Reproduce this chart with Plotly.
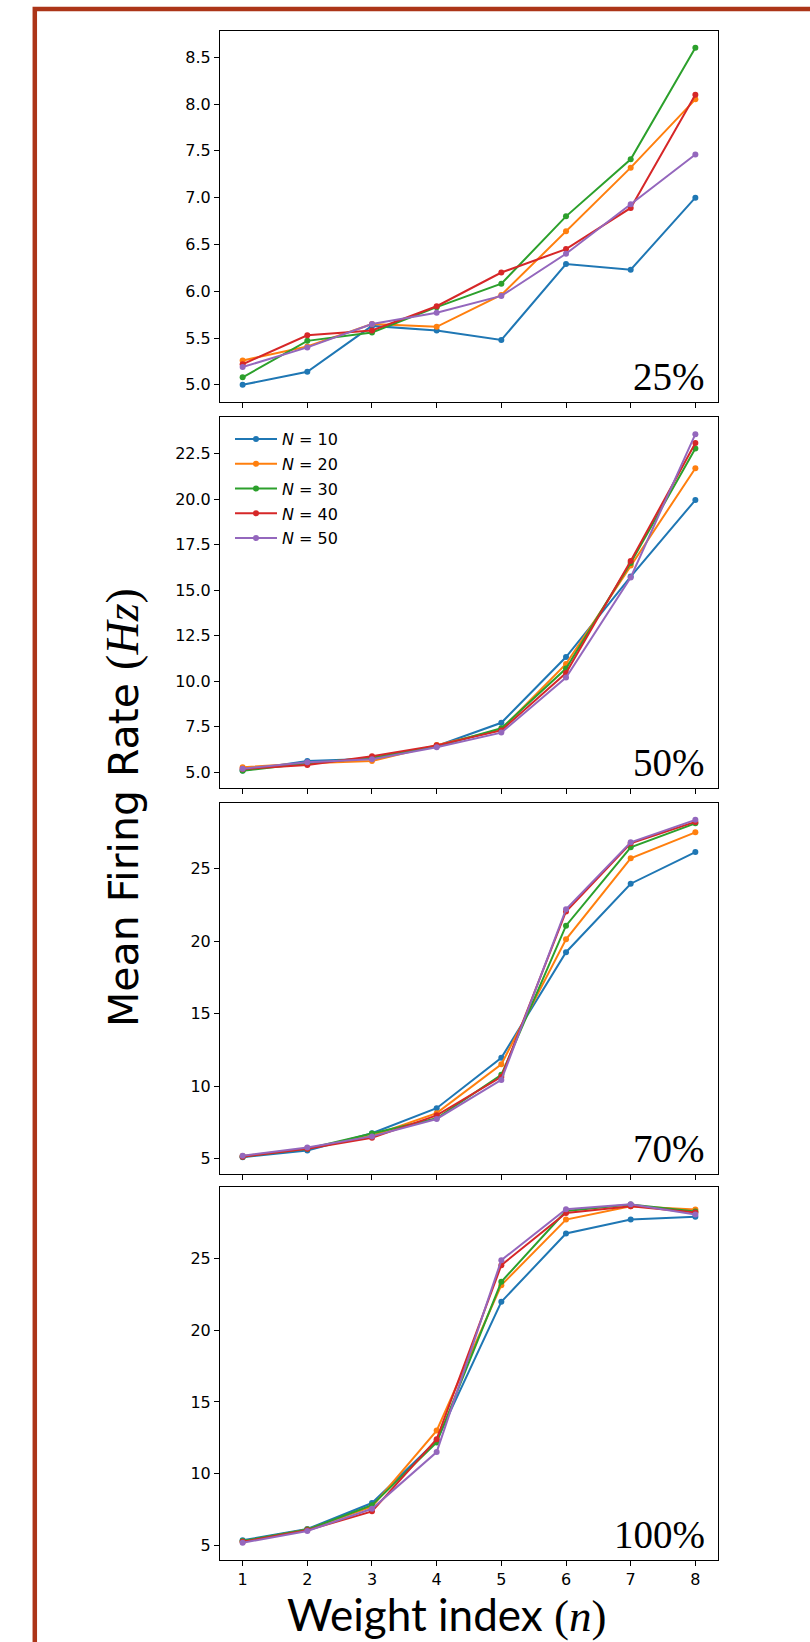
import plotly.graph_objects as go
from plotly.subplots import make_subplots

# ---------------- data ----------------
weight_index = [1, 2, 3, 4, 5, 6, 7, 8]
legend_labels = ["<i>N</i> = 10", "<i>N</i> = 20", "<i>N</i> = 30", "<i>N</i> = 40", "<i>N</i> = 50"]
panel_labels = ["25%", "50%", "70%", "100%"]

# rows: N = 10, 20, 30, 40, 50
rate_25 = [
    [5.00, 5.14, 5.63, 5.58, 5.48, 6.29, 6.23, 7.00],
    [5.26, 5.41, 5.65, 5.62, 5.96, 6.64, 7.32, 8.05],
    [5.08, 5.47, 5.56, 5.83, 6.08, 6.80, 7.41, 8.60],
    [5.22, 5.53, 5.58, 5.84, 6.20, 6.45, 6.89, 8.10],
    [5.19, 5.40, 5.65, 5.77, 5.95, 6.40, 6.93, 7.46],
]
rate_50 = [
    [5.10, 5.62, 5.75, 6.45, 7.72, 11.33, 15.75, 19.95],
    [5.28, 5.50, 5.62, 6.50, 7.35, 10.95, 16.35, 21.70],
    [5.08, 5.50, 5.80, 6.42, 7.42, 10.70, 16.50, 22.78],
    [5.18, 5.40, 5.88, 6.48, 7.30, 10.45, 16.60, 23.08],
    [5.20, 5.55, 5.72, 6.38, 7.18, 10.20, 15.70, 23.57],
]
rate_70 = [
    [5.12, 5.57, 6.77, 8.49, 11.96, 19.24, 23.96, 26.14],
    [5.20, 5.72, 6.60, 8.15, 11.52, 20.13, 25.71, 27.50],
    [5.15, 5.70, 6.75, 7.80, 10.79, 21.07, 26.47, 28.12],
    [5.15, 5.70, 6.45, 8.00, 10.65, 22.05, 26.75, 28.22],
    [5.22, 5.78, 6.55, 7.75, 10.44, 22.20, 26.81, 28.36],
]
rate_100 = [
    [5.35, 6.14, 7.95, 12.30, 21.98, 26.74, 27.71, 27.90],
    [5.25, 6.10, 7.70, 13.00, 23.14, 27.71, 28.64, 28.41],
    [5.30, 6.10, 7.80, 12.17, 23.37, 28.31, 28.76, 28.28],
    [5.25, 6.05, 7.37, 12.40, 24.53, 28.17, 28.64, 28.20],
    [5.18, 6.00, 7.55, 11.50, 24.88, 28.43, 28.78, 28.06],
]
panels = [rate_25, rate_50, rate_70, rate_100]

colors = ["#1f77b4", "#ff7f0e", "#2ca02c", "#d62728", "#9467bd"]

# ---------------- layout geometry (pixels) ----------------
W, H = 810, 1642
X_LEFT, X_RIGHT = 220, 718
PANEL_PX = [(31, 401.7), (417.3, 787.7), (803, 1174), (1187.3, 1559.7)]
YTICKS = [dict(tick0=5, dtick=0.5, tickformat=".1f"),
          dict(tick0=5, dtick=2.5, tickformat=".1f"),
          dict(tick0=5, dtick=5, tickformat="d"),
          dict(tick0=5, dtick=5, tickformat="d")]


def px_x(v):
    return v / W


def px_y(v):
    return 1 - v / H


fig = make_subplots(rows=4, cols=1)

for p, data in enumerate(panels):
    for i, ys in enumerate(data):
        fig.add_trace(
            go.Scatter(
                x=weight_index, y=ys, mode="lines+markers",
                line=dict(color=colors[i], width=2),
                marker=dict(color=colors[i], size=6),
                name=legend_labels[i], legendgroup=f"g{i}",
                showlegend=(p == 1),
            ),
            row=p + 1, col=1,
        )

axis_common = dict(showline=True, linecolor="black", linewidth=1, mirror=True,
                   ticks="outside", ticklen=5, tickwidth=1, tickcolor="black",
                   showgrid=False, zeroline=False, automargin=False,
                   tickfont=dict(family="DejaVu Sans", size=16, color="black"))

for p, data in enumerate(panels):
    allv = [v for s in data for v in s]
    lo, hi = min(allv), max(allv)
    pad = 0.05 * (hi - lo)
    top, bot = PANEL_PX[p]
    fig.update_yaxes(range=[lo - pad, hi + pad], domain=[px_y(bot), px_y(top)],
                     tickmode="linear", **YTICKS[p], **axis_common, row=p + 1, col=1)
    fig.update_xaxes(range=[0.65, 8.35], domain=[px_x(X_LEFT), px_x(X_RIGHT)],
                     tickmode="array", tickvals=weight_index,
                     showticklabels=(p == 3), **axis_common, row=p + 1, col=1)

annotations = []
for p, lab in enumerate(panel_labels):
    top, bot = PANEL_PX[p]
    annotations.append(dict(
        text=lab, xref="paper", yref="paper", x=px_x(707), y=px_y(bot - 2),
        xanchor="right", yanchor="bottom", showarrow=False,
        font=dict(family="Liberation Serif", size=39, color="black")))

annotations.append(dict(
    text="Mean Firing Rate <span style='font-family:Liberation Serif;font-size:46px'>(<i>Hz</i>)</span>",
    xref="paper", yref="paper", x=px_x(122), y=px_y(808), textangle=-90,
    xanchor="center", yanchor="middle", showarrow=False,
    font=dict(family="DejaVu Sans", size=41, color="black")))

annotations.append(dict(
    text="Weight index <span style='font-family:Liberation Serif;font-size:45px'>(<i>n</i>)</span>",
    xref="paper", yref="paper", x=px_x(446), y=px_y(1614),
    xanchor="center", yanchor="middle", showarrow=False,
    font=dict(family="Lato", size=44, color="black")))

border = dict(type="rect", xref="paper", yref="paper",
              x0=px_x(34.8), x1=px_x(900), y0=px_y(1800), y1=px_y(8.9),
              line=dict(color="#AC3518", width=4.5), fillcolor="rgba(0,0,0,0)")

fig.update_layout(
    width=W, height=H,
    margin=dict(l=0, r=0, t=0, b=0),
    paper_bgcolor="white", plot_bgcolor="white",
    font=dict(family="DejaVu Sans", color="black"),
    showlegend=True,
    legend=dict(x=px_x(230), y=px_y(422), xanchor="left", yanchor="top",
                bgcolor="rgba(0,0,0,0)", borderwidth=0, tracegroupgap=1,
                itemwidth=42,
                font=dict(family="DejaVu Sans", size=16, color="black")),
    annotations=annotations,
    shapes=[border],
)

fig.write_html(
    "out.html",
    config={"displayModeBar": False},
    post_script="document.body.style.margin='0px'; document.body.style.overflow='hidden';",
)
